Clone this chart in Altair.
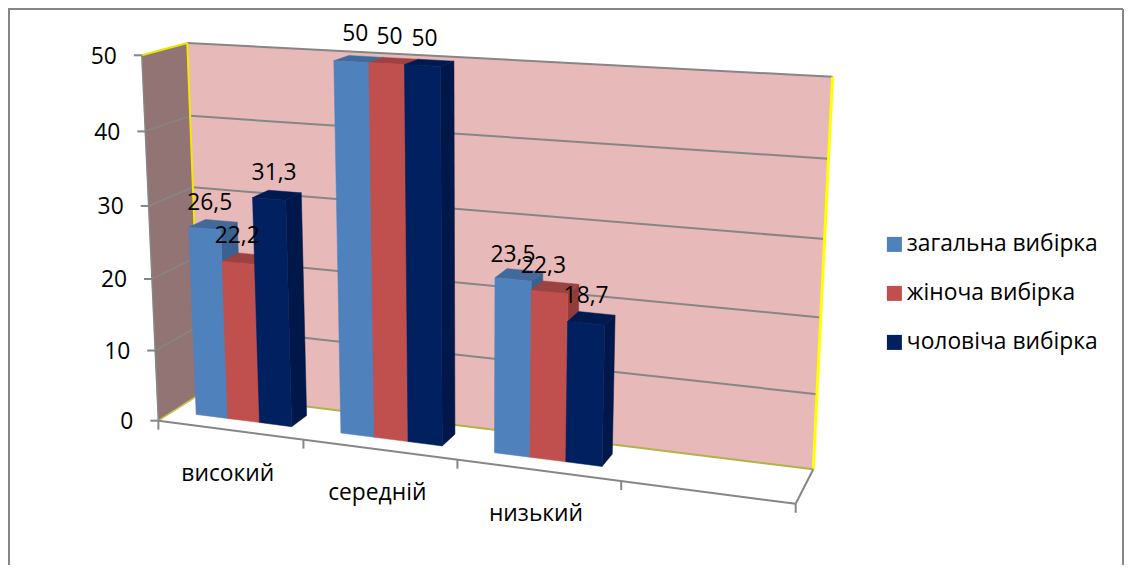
import numpy as np
import pandas as pd
import altair as alt

categories = ["високий", "середній", "низький"]
series = ["загальна вибірка", "жіноча вибірка", "чоловіча вибірка"]
total_values = [26.5, 50, 23.5]
female_values = [22.2, 50, 22.3]
male_values = [31.3, 50, 18.7]
value_labels = [["26,5", "50", "23,5"], ["22,2", "50", "22,3"], ["31,3", "50", "18,7"]]
y_ticks = [0, 10, 20, 30, 40, 50]

front_colors = ["#4F81BD", "#C0504D", "#002060"]
side_colors = ["#3A6290", "#8F3C3A", "#00174A"]
top_colors = ["#416A9A", "#9C4240", "#001A50"]
label_nudge_x = [[5, 4, 0], [-1, 3, -6], [5, 2, 0]]
label_nudge_y = [[0, -2, 2], [-1, -1, 0], [0, -1, -1]]
FONT = "Open Sans"
FS = 22.8
W, H = 1116, 557

# Camera calibration: (category share, depth share, value share) -> page pixel
calib = [
    (0, 0, 0, 159, 420), (.25, 0, 0, 304, 440), (.5, 0, 0, 458, 460), (.75, 0, 0, 621, 481),
    (1, 0, 0, 795, 504), (0, 1, 0, 199, 393), (1, 1, 0, 814, 469), (0, 1, 1, 188, 43),
    (1, 1, 1, 833, 76), (0, 0, 1, 141, 55), (0, 1, .8, 191, 117), (0, 1, .6, 193, 187),
    (1, 1, .8, 828, 159), (1, 1, .6, 824, 239), (1, 1, .4, 821, 318), (1, 1, .2, 817, 394),
    (0, 0, .8, 145, 131), (0, 0, .6, 148, 206), (0, 0, .4, 152, 279), (0, 0, .2, 156, 351),
]
A, b = [], []
for u, d, h, px, py in calib:
    A.append([u, d, h, 1, 0, 0, 0, 0, -px * u, -px * d, -px * h]); b.append(px)
    A.append([0, 0, 0, 0, u, d, h, 1, -py * u, -py * d, -py * h]); b.append(py)
M = np.append(np.linalg.lstsq(np.array(A, float), np.array(b, float), rcond=None)[0], 1).reshape(3, 4)


def project(u, d, h):
    p = M @ np.array([u, d, h, 1.0])
    return p[0] / p[2], p[1] / p[2]


xs = alt.X("x:Q", scale=alt.Scale(domain=[8, 8 + W], range=[0, W]), axis=None)
ys = alt.Y("y:Q", scale=alt.Scale(domain=[8 + H, 8], range=[H, 0]), axis=None)
layers = []


def poly(corners, color, stroke=None, sw=0.5):
    pts = [project(*c) for c in corners]
    pts.append(pts[0])
    df = pd.DataFrame({"x": [p[0] for p in pts], "y": [p[1] for p in pts], "i": range(len(pts))})
    layers.append(alt.Chart(df).mark_line(fill=color, stroke=stroke or color, strokeWidth=sw,
                                          strokeJoin="miter", interpolate="linear")
                  .encode(x=xs, y=ys, order="i:Q"))


def seg_px(p0, p1, color="#868686", sw=2.0):
    df = pd.DataFrame({"x": [p0[0], p1[0]], "y": [p0[1], p1[1]], "i": [0, 1]})
    layers.append(alt.Chart(df).mark_line(stroke=color, strokeWidth=sw).encode(x=xs, y=ys, order="i:Q"))


def seg(c0, c1, color="#868686", sw=2.0):
    seg_px(project(*c0), project(*c1), color, sw)


# legend carrier (hidden behind the walls)
vals = [total_values, female_values, male_values]
legend_df = pd.DataFrame([
    {"series": s, "x": project(.1, .5, .01)[0], "y": project(.1, .5, .01)[1]} for s in series
])
layers.append(alt.Chart(legend_df).mark_square(size=4).encode(
    x=xs, y=ys,
    color=alt.Color("series:N", scale=alt.Scale(domain=series, range=front_colors),
                    legend=alt.Legend(title=None, orient="none", legendX=875, legendY=225,
                                      symbolType="square", symbolSize=225, symbolStrokeWidth=0,
                                      symbolOpacity=1, labelFont=FONT, labelFontSize=FS,
                                      labelColor="#000000", rowPadding=25, labelOffset=1,
                                      labelLimit=300))))

# walls
poly([(0, 0, 0), (0, 1, 0), (0, 1, 1), (0, 0, 1)], "#937474")
poly([(0, 1, 0), (1, 1, 0), (1, 1, 1), (0, 1, 1)], "#E8B9B9")
for t in y_ticks[1:-1]:
    h = t / 50
    seg((0, 0, h), (0, 1, h), "#868686", 1.5)
    seg((0, 1, h), (1, 1, h), "#868686", 2)
seg((0, 1, 1), (1, 1, 1), "#868686", 2)
seg((0, 0, 1), (0, 1, 1), "#E6E600", 2)
seg((0, 1, 0), (0, 1, 1), "#F2E800", 2)
seg((1, 1, 0), (1, 1, 1), "#FFFF00", 3)
seg((0, 0, 0), (0, 1, 0), "#C9C24A", 1.5)
seg((0, 1, 0), (1, 1, 0), "#B5B04A", 2)
seg((0, 0, 0), (0, 0, 1), "#868686", 1.5)

# floor frame and ticks
seg((0, 0, 0), (1, 0, 0))
seg((1, 0, 0), (1, 1, 0))
for k in range(5):
    x0, y0 = project(k / 4, 0, 0)
    seg_px((x0, y0), (x0, y0 + 9))
for t in y_ticks:
    x0, y0 = project(0, 0, t / 50)
    seg_px((x0 - 8, y0), (x0, y0))

# bars
D0, D1 = .33, .72
labels = []
for c in range(3):
    left = (c + 1 / 6) / 4
    w = (2 / 3) / 4 / 3
    for s in range(3):
        h = vals[s][c] / 50
        u0, u1 = left + s * w, left + (s + 1) * w
        poly([(u1, D0, 0), (u1, D1, 0), (u1, D1, h), (u1, D0, h)], side_colors[s])
        poly([(u0, D0, h), (u1, D0, h), (u1, D1, h), (u0, D1, h)], top_colors[s])
        poly([(u0, D0, 0), (u1, D0, 0), (u1, D0, h), (u0, D0, h)], front_colors[s])
        lx, ly = project((u0 + u1) / 2, D0, h)
        labels.append({"x": lx + label_nudge_x[s][c], "y": ly - 26 + label_nudge_y[s][c],
                       "t": value_labels[s][c]})

# texts
layers.append(alt.Chart(pd.DataFrame(labels)).mark_text(font=FONT, fontSize=FS, color="#000000").encode(
    x=xs, y=ys, text="t:N"))
tick_df = pd.DataFrame([{"x": project(0, 0, t / 50)[0] - 25, "y": project(0, 0, t / 50)[1] + 1.5, "t": str(t)} for t in y_ticks])
layers.append(alt.Chart(tick_df).mark_text(font=FONT, fontSize=FS, color="#000000", align="right").encode(
    x=xs, y=ys, text="t:N"))
cat_df = pd.DataFrame([{"x": project((k + .5) / 4, 0, 0)[0] - 2, "y": project((k + .5) / 4, 0, 0)[1] + 44, "t": n}
                       for k, n in enumerate(categories)])
layers.append(alt.Chart(cat_df).mark_text(font=FONT, fontSize=FS, color="#000000").encode(
    x=xs, y=ys, text="t:N"))

# chart frame
seg_px((8, 9), (1123, 9), "#868686", 2)
seg_px((1123, 9), (1123, 8 + H), "#868686", 2)
seg_px((9, 9), (9, 8 + H), "#868686", 2)

chart = alt.layer(*layers).properties(
    width=W, height=H, padding=0,
    autosize=alt.AutoSizeParams(type="none"),
    background="#FFFFFF",
).configure_view(stroke=None, clip=False)

chart.save("out.html", embed_options={"renderer": "svg", "actions": False})
